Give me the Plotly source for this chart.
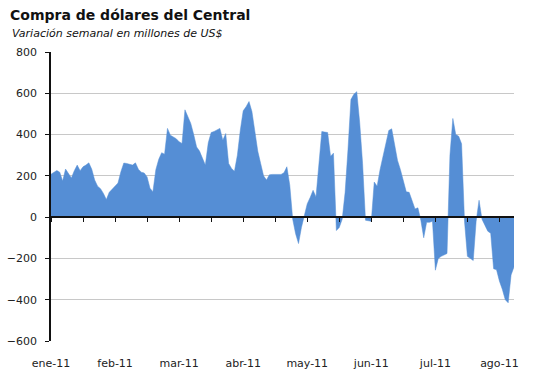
import plotly.graph_objects as go

# Daily values of the weekly variation (millions of US$)
values = [
    208, 218, 226, 218, 175, 233, 212, 190, 225, 252,
    225, 244, 252, 263, 232, 180, 150, 138, 115, 85,
    120, 135, 148, 165, 220, 262, 260, 255, 252, 263,
    232, 218, 214, 195, 140, 123, 230, 280, 312, 305,
    430, 397, 390, 380, 365, 357, 520, 490, 454, 400,
    340, 320, 290, 252, 360, 410, 415, 422, 430, 373,
    405, 260, 236, 222, 300, 420, 515, 535, 560, 512,
    415, 320, 260, 200, 180, 205, 207, 207, 207, 207,
    215, 244, 155, -10, -80, -128, -50, 10, 65, 95,
    130, 98, 265, 415, 412, 410, 295, 310, -65, -50,
    -10, 120, 330, 570, 595, 608, 460, 260, -15, -18,
    -20, 170, 150, 230, 295, 360, 420, 428, 350, 275,
    230, 180, 123, 120, 75, 40, 45, -15, -100, -25,
    -25, -20, -257, -200, -190, -184, -176, 300, 478, 400,
    392, 355, -20, -190, -200, -210, -20, 82, -10, -40,
    -68, -78, -250, -255, -310, -350, -400, -415, -280, -241,
]
idx = list(range(len(values)))

month_labels = ["ene-11", "feb-11", "mar-11", "abr-11", "may-11", "jun-11", "jul-11", "ago-11"]
label_step = 22
tick_step = 11

y_ticks = [-600, -400, -200, 0, 200, 400, 600, 800]
y_min, y_max = -600, 800

title = "Compra de dólares del Central"
subtitle = "Variación semanal en millones de US$"

fill_color = "#558ED5"
font_family = "DejaVu Sans"

fig = go.Figure()
fig.add_trace(go.Scatter(
    x=idx, y=values, mode="lines", fill="tozeroy",
    fillcolor=fill_color, line=dict(color=fill_color, width=0.5),
    hoverinfo="skip", showlegend=False,
))
# invisible companion trace so the zero-line axis (x2) is drawn
fig.add_trace(go.Scatter(
    x=idx, y=values, xaxis="x2", mode="none",
    hoverinfo="skip", showlegend=False,
))

n_last = len(values) - 1
label_vals = [i * label_step for i in range(len(month_labels))]
tick_vals = list(range(0, n_last + 1, tick_step))

fig.update_layout(
    width=533, height=391,
    margin=dict(l=51, r=19, t=52, b=50, autoexpand=False),
    paper_bgcolor="white", plot_bgcolor="white",
    font=dict(family=font_family, size=11, color="#222"),
    title=dict(
        text=title, xref="container", yref="container",
        x=10 / 533, y=1 - 15 / 391, xanchor="left", yanchor="middle",
        font=dict(family=font_family, size=14, color="#111", weight="bold"),
    ),
    xaxis=dict(
        range=[0, n_last], tickmode="array", tickvals=label_vals, ticktext=month_labels,
        showgrid=False, zeroline=False, showline=False, ticks="", automargin=False,
        ticklabelstandoff=14, tickfont=dict(size=11, color="#222"),
    ),
    xaxis2=dict(
        range=[0, n_last], overlaying="x", anchor="free", automargin=False,
        position=(0 - y_min) / (y_max - y_min),
        showline=True, linecolor="#111", linewidth=1.5,
        ticks="outside", ticklen=4, tickcolor="#111", tickwidth=1,
        tickmode="array", tickvals=tick_vals, showticklabels=False,
        showgrid=False, zeroline=False,
    ),
    yaxis=dict(
        range=[y_min, y_max], tickmode="array", tickvals=y_ticks, automargin=False,
        showgrid=True, gridcolor="#c8c8c8", gridwidth=1,
        zeroline=False, showline=True, linecolor="#111", linewidth=1.5,
        ticks="outside", ticklen=4, tickcolor="#111",
        ticklabelstandoff=6, tickfont=dict(size=11, color="#222"),
    ),
    annotations=[dict(
        text=subtitle, xref="paper", yref="paper",
        x=-41 / 463, y=1 + (52 - 33) / 289, xanchor="left", yanchor="middle",
        showarrow=False, font=dict(family=font_family, size=11, color="#111", style="italic"),
    )],
)

fig.write_html(
    "out.html",
    config={"displayModeBar": False},
    post_script="document.body.style.margin='0';document.body.style.overflow='hidden';",
)
